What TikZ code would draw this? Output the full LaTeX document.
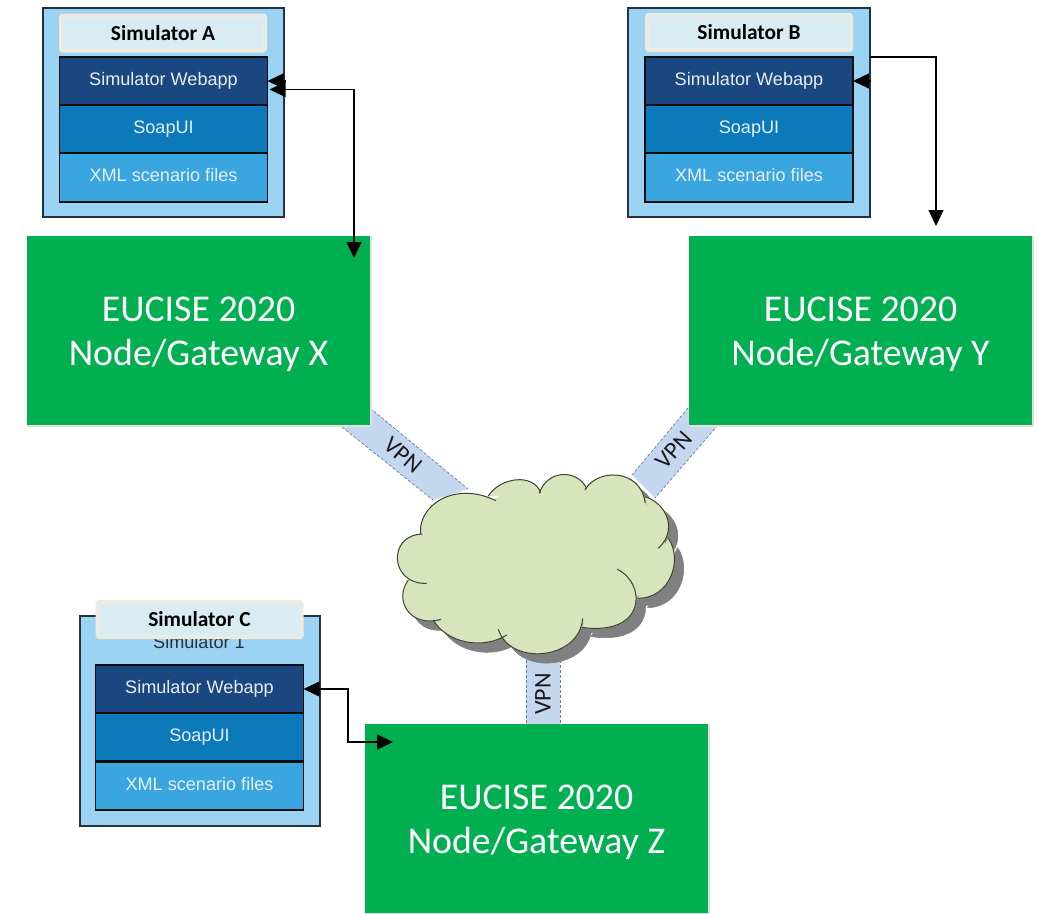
\documentclass[tikz,border=0pt]{standalone}
\usepackage{fontspec}
\setmainfont{Carlito}
\newfontfamily\stackfont{Liberation Sans}
\usetikzlibrary{arrows.meta}
\definecolor{simbg}{HTML}{9BD3F4}
\definecolor{simedge}{HTML}{24323F}
\definecolor{webcol}{HTML}{1A4780}
\definecolor{soapcol}{HTML}{0C79BA}
\definecolor{xmlcol}{HTML}{3AA6DF}
\definecolor{titlefill}{HTML}{DAECF3}
\definecolor{titleedge}{HTML}{EDEBE0}
\definecolor{gwgreen}{HTML}{00AF50}
\definecolor{vpnfill}{HTML}{C5D6EF}
\definecolor{vpnedge}{HTML}{5F7F9F}
\definecolor{cloudfill}{HTML}{D8E4BC}
\definecolor{cloudedge}{HTML}{3C4433}
\definecolor{stacktext}{HTML}{E6EEF6}
\newcommand\cloudbumps[2]{%
  \path[#1] (272,432) .. controls (262,350) and (370,270) .. (498,332) #2;
  \path[#1] (475,318) .. controls (510,262) and (610,248) .. (632,308) #2;
  \path[#1] (628,310) .. controls (650,240) and (740,235) .. (770,295) #2;
  \path[#1] (765,300) .. controls (800,235) and (930,235) .. (945,335) #2;
  \path[#1] (945,320) .. controls (1010,340) and (1045,420) .. (985,475) #2;
  \path[#1] (1015,445) .. controls (1060,510) and (1020,625) .. (925,625) #2;
  \path[#1] (862,538) .. controls (950,580) and (950,740) .. (755,712) #2;
  \path[#1] (758,685) .. controls (750,810) and (540,830) .. (505,718) #2;
  \path[#1] (530,735) .. controls (460,780) and (350,760) .. (310,690) #2;
  \path[#1] (333,688) .. controls (240,715) and (190,630) .. (235,570) #2;
  \path[#1] (290,580) .. controls (180,585) and (170,435) .. (278,432) #2;
}
\newcommand\cloudcore[1]{%
  \path[#1] (290,400)--(420,320)--(485,332)--(560,290)--(630,310)--(700,275)--(768,300)--(850,270)--(945,340)--(960,360)--(1000,420)--(1010,520)--(940,610)--(920,620)--(860,685)--(755,700)--(700,750)--(560,750)--(505,735)--(450,745)--(350,700)--(260,660)--(240,590)--(240,575)--(225,500)--(280,440)--cycle;
}
\tikzset{
  simbox/.style={draw=simedge,line width=2pt,fill=simbg,inner sep=0pt,outer sep=0pt},
  titlebox/.style={draw=titleedge,line width=4pt,fill=titlefill,rounded corners=1.5pt,inner sep=0pt,outer sep=0pt,
    minimum width=204pt,minimum height=35pt,text=black,text height=16pt,text depth=2pt,font=\fontsize{21.4}{24}\selectfont\bfseries},
  layer/.style={draw=black!95,line width=1.9pt,inner sep=0pt,outer sep=0pt,minimum width=208pt,minimum height=48.5pt,
    text=stacktext,text height=14pt,text depth=5.6pt,font=\stackfont\fontsize{18.1}{20}\selectfont},
  webapp/.style={layer,fill=webcol},
  soap/.style={layer,fill=soapcol},
  xmlfiles/.style={layer,fill=xmlcol},
  gateway/.style={fill=gwgreen,inner sep=0pt,outer sep=0pt,minimum width=343pt,minimum height=189pt,
    text=white,align=center,font=\fontsize{37.8}{44}\selectfont},
  gwshadow/.style={fill=black!12,inner sep=0pt,minimum width=345pt,minimum height=191pt},
  vpnband/.style={fill=vpnfill},
  vpnside/.style={draw=vpnedge,line width=.7pt,dash pattern=on 3pt off 2pt},
  vpnlabel/.style={font=\fontsize{24}{26}\selectfont,text=black!90,inner sep=0pt},
  link/.style={draw=black,line width=1.2pt},
  head/.style={-{Triangle[length=16pt,width=15pt]}},
  twohead/.style={{Triangle[length=16pt,width=15pt]}-{Triangle[length=16pt,width=15pt]}},
}
\begin{document}
\begin{tikzpicture}[x=1pt,y=-1pt]
\useasboundingbox (0,0) rectangle (1038,913);
\fill[white] (0,0) rectangle (1038,913);

% VPN bands
\fill[vpnband] (370,408) -- (468,489) -- (433,500) -- (342,427) -- cycle;
\draw[vpnside] (370,408) -- (468,489) (342,427) -- (433,500);
\fill[vpnband] (688,408) -- (632,475) -- (655,498) -- (718,425) -- cycle;
\draw[vpnside] (688,408) -- (632,475) (718,425) -- (655,498);
\fill[vpnband] (526,650) rectangle (560,724);
\draw[vpnside] (526,650) -- (526,724) (560,650) -- (560,724);
\node[vpnlabel,rotate=-40] (vpnx) at (403,455) {VPN};
\node[vpnlabel,rotate=48] (vpny) at (674,450) {VPN};
\node[vpnlabel,rotate=90] (vpnz) at (543,694) {VPN};

% gateways
\node[gwshadow] (gwxs) at (199,331.5) {};
\node[gwshadow] (gwys) at (861,331.5) {};
\node[gwshadow] (gwzs) at (537,819.5) {};
\node[gateway] (gwx) at (198.5,330.5) {\rule{0pt}{32pt}EUCISE 2020\\Node/Gateway X};
\node[gateway] (gwy) at (860.5,330.5) {\rule{0pt}{32pt}EUCISE 2020\\Node/Gateway Y};
\node[gateway] (gwz) at (536.5,818.5) {\rule{0pt}{32pt}EUCISE 2020\\Node/Gateway Z};

% cloud
\begin{scope}[shift={(330,390)},x=.3333pt,y=-.3333pt]
  \begin{scope}[shift={(28,28)}]
    \cloudcore{fill=black!50,draw=black!50,line width=.5pt}
    \cloudbumps{fill=black!50,draw=black!50,line width=.5pt}{-- cycle}
  \end{scope}
  \cloudcore{fill=cloudfill,draw=cloudfill,line width=.5pt}
  \cloudbumps{fill=cloudfill,draw=cloudfill,line width=.5pt}{-- cycle}
  \cloudbumps{draw=cloudedge,line width=1pt}{}
\end{scope}

% simulator A
\node[simbox,minimum width=241pt,minimum height=209pt] (simA) at (163.5,112.5) {};
\node[titlebox] (titleA) at (163,33) {Simulator A};
\node[webapp] (webA) at (163.5,81) {Simulator Webapp};
\node[soap] (soapA) at (163.5,129) {SoapUI};
\node[xmlfiles] (xmlA) at (163.5,177.5) {XML scenario files};

% simulator B
\node[simbox,minimum width=242pt,minimum height=209pt] (simB) at (749,112.5) {};
\node[titlebox] (titleB) at (749,32.5) {Simulator B};
\node[webapp] (webB) at (749,81) {Simulator Webapp};
\node[soap] (soapB) at (749,129) {SoapUI};
\node[xmlfiles] (xmlB) at (749,177.5) {XML scenario files};

% simulator C
\node[simbox,minimum width=240pt,minimum height=210pt] (simC) at (199.5,721) {};
\node[font=\stackfont\fontsize{18.1}{20}\selectfont,text=simedge,inner sep=0pt] (oldC) at (199,642) {Simulator 1};
\node[titlebox] (titleC) at (199.5,619.5) {Simulator C};
\node[webapp] (webC) at (199.5,689) {Simulator Webapp};
\node[soap] (soapC) at (199.5,737) {SoapUI};
\node[xmlfiles] (xmlC) at (199.5,786) {XML scenario files};

% connectors
\coordinate (endA) at (354,258);
\coordinate (endB) at (936,226);
\coordinate (elbowC) at (348,742);
\coordinate (endC) at (393,742);
\draw[link,head] ([xshift=18pt]webA.east) -- (webA.east);
\draw[link,twohead] ([xshift=2pt,yshift=-8.5pt]webA.east) -| (endA);
\draw[link,head] ([xshift=18pt]webB.east) -- (webB.east);
\draw[link,head] ([yshift=55.5pt]simB.east) -| (endB);
\draw[link,twohead] (webC.east) -| (elbowC) -- (endC);
\end{tikzpicture}
\end{document}
